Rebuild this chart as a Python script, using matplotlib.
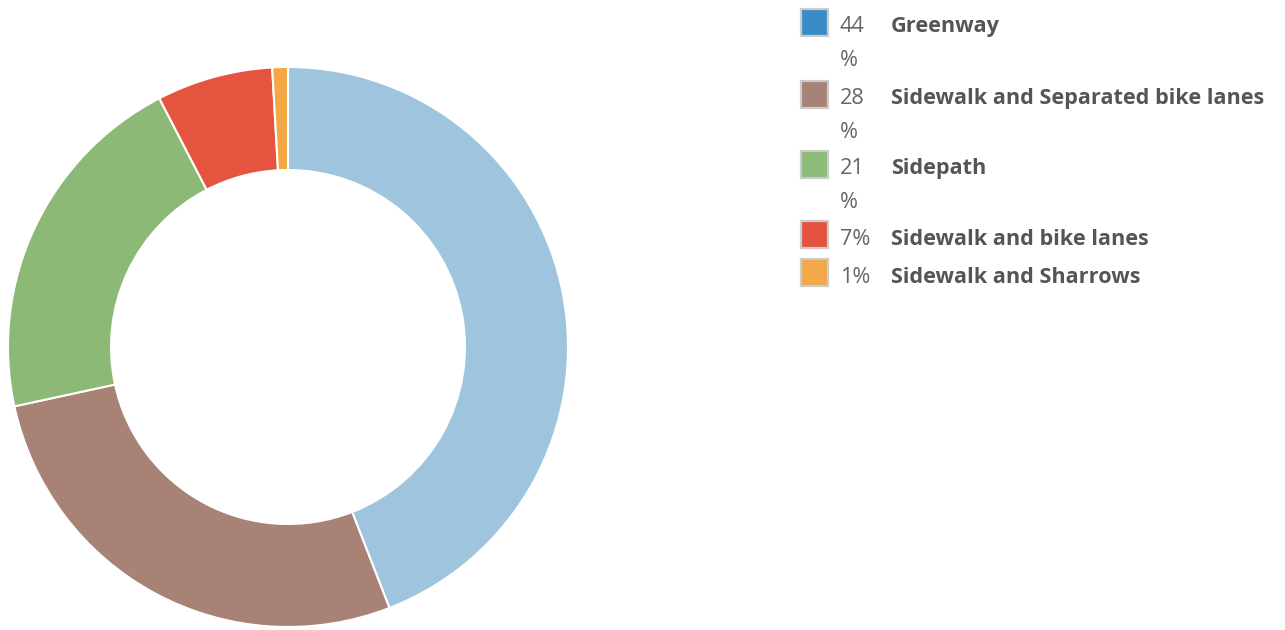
import matplotlib.pyplot as plt
from matplotlib.patches import Rectangle

# data
labels = ['Greenway', 'Sidewalk and Separated bike lanes', 'Sidepath',
          'Sidewalk and bike lanes', 'Sidewalk and Sharrows']
shares = [44.1, 27.5, 20.8, 6.7, 0.9]
pct_text = ['44\n%', '28\n%', '21\n%', '7%', '1%']
slice_colors = ['#9fc5de', '#a98276', '#8cb976', '#e4543f', '#f4a742']
legend_colors = ['#3a8cc6', '#a98276', '#8dbb78', '#e4533f', '#f2a84a']

W, H = 1285, 630
fig = plt.figure(figsize=(W / 100, H / 100), dpi=100)

# donut
cx, cy, r = 288, 347, 280
ax = fig.add_axes([(cx - r) / W, 1 - (cy + r) / H, 2 * r / W, 2 * r / H])
ax.pie(shares, colors=slice_colors, startangle=90, counterclock=False,
       wedgeprops=dict(width=103 / 280, edgecolor='white', linewidth=1.5))
ax.set_xlim(-1, 1)
ax.set_ylim(-1, 1)
ax.set_aspect('equal')
ax.axis('off')

# legend, drawn by hand in pixel positions
row_y = [22, 94, 164, 235, 273]
fs = 15.6
for i, lab in enumerate(labels):
    y = row_y[i]
    fig.patches.append(Rectangle((801 / W, 1 - (y + 13.5) / H), 27 / W, 27 / H,
                                 transform=fig.transFigure, facecolor=legend_colors[i],
                                 edgecolor='#cccccc', linewidth=1.6))
    for k, line in enumerate(pct_text[i].split('\n')):
        fig.text(840 / W, 1 - (y + 10 + 34 * k) / H, line, family='Open Sans',
                 fontsize=fs, color='#666666', va='baseline')
    fig.text(891 / W, 1 - (y + 10) / H, lab, family='Open Sans', fontweight='bold',
             fontsize=fs, color='#555555', va='baseline')

fig.savefig('out.png', dpi=100)
